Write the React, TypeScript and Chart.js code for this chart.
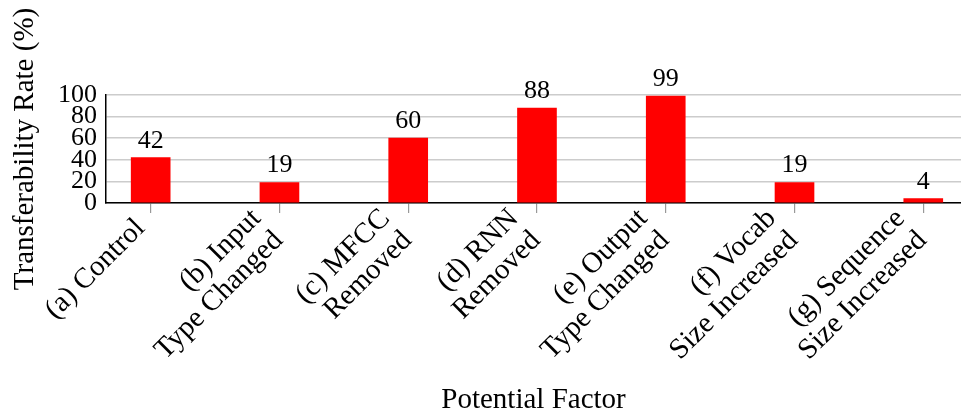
import React, { useEffect, useRef } from "react";
import { Chart, registerables } from "chart.js";

Chart.register(...registerables);

const categories: string[][] = [
  ["(a) Control"],
  ["(b) Input", "Type Changed"],
  ["(c) MFCC", "Removed"],
  ["(d) RNN", "Removed"],
  ["(e) Output", "Type Changed"],
  ["(f) Vocab", "Size Increased"],
  ["(g) Sequence", "Size Increased"],
];
const values: number[] = [42, 19, 60, 88, 99, 19, 4];
const yTicks: number[] = [0, 20, 40, 60, 80, 100];

const FONT = "'Liberation Serif', 'DejaVu Serif', serif";
const FS_TEXT = 29;
const FS_NUM = 26;

const valueLabels = {
  id: "valueLabels",
  afterDatasetsDraw(chart: any) {
    const ctx = chart.ctx;
    const meta = chart.getDatasetMeta(0);
    ctx.save();
    ctx.font = `${FS_NUM}px ${FONT}`;
    ctx.fillStyle = "#000";
    ctx.textAlign = "center";
    ctx.textBaseline = "alphabetic";
    meta.data.forEach((el: any, i: number) => {
      ctx.fillText(String(values[i]), el.x, el.y - 10);
    });
    ctx.restore();
  },
};

const rotatedLabels = {
  id: "rotatedLabels",
  afterDraw(chart: any) {
    const ctx = chart.ctx;
    const xs = chart.scales.x;
    const axisY = xs.top;
    const L = 31;
    ctx.save();
    ctx.font = `${FS_TEXT}px ${FONT}`;
    ctx.fillStyle = "#000";
    ctx.textAlign = "right";
    ctx.textBaseline = "middle";
    categories.forEach((lines, i) => {
      const px = xs.getPixelForValue(i);
      const extra = lines.length - 1;
      ctx.save();
      ctx.translate(px - 10 - 5 * extra, axisY + 21 - 2 * extra);
      ctx.rotate(-Math.PI / 4);
      const top = -11 * extra;
      lines.forEach((t, k) => {
        ctx.fillText(t, 0, top + k * L);
      });
      ctx.restore();
    });
    ctx.restore();
  },
};

export default function App() {
  const ref = useRef<HTMLCanvasElement | null>(null);
  useEffect(() => {
    document.body.style.margin = "0";
    const canvas = ref.current!;
    const chart = new Chart(canvas, {
      type: "bar",
      data: {
        datasets: [
          {
            data: values.map((v, i) => ({ x: i, y: v })),
            backgroundColor: "#ff0000",
            borderWidth: 0,
            barThickness: 39,
          },
        ],
      },
      options: {
        responsive: false,
        animation: false,
        devicePixelRatio: 1,
        layout: { padding: { top: 95, left: 0, right: 0, bottom: 0 } },
        plugins: { legend: { display: false }, tooltip: { enabled: false } },
        scales: {
          x: {
            type: "linear",
            offset: false,
            min: -0.347,
            max: 6.293,
            afterFit: (s: any) => {
              s.height = 212;
            },
            afterBuildTicks: (s: any) => {
              s.ticks = categories.map((_, i) => ({ value: i }));
            },
            ticks: { display: false, autoSkip: false },
            grid: {
              offset: false,
              drawOnChartArea: false,
              drawTicks: true,
              tickLength: 10,
              color: "#999",
              lineWidth: 1.2,
            },
            border: { display: true, color: "#000", width: 1.5 },
            title: {
              display: true,
              text: "Potential Factor",
              color: "#000",
              font: { family: FONT, size: FS_TEXT, lineHeight: 1.0 },
              padding: { top: 0, bottom: 0 },
            },
          },
          y: {
            min: 0,
            max: 100,
            afterFit: (s: any) => {
              s.width = 106;
            },
            afterBuildTicks: (s: any) => {
              s.ticks = yTicks.map((v) => ({ value: v }));
            },
            ticks: {
              autoSkip: false,
              padding: 9,
              color: "#000",
              font: { family: FONT, size: FS_NUM, lineHeight: 1.0 },
            },
            grid: { color: "#cccccc", lineWidth: 1.5, drawTicks: false },
            border: { display: true, color: "#000", width: 1.5 },
            title: {
              display: true,
              text: "Transferability Rate (%)",
              color: "#000",
              font: { family: FONT, size: FS_TEXT, lineHeight: 1.2 },
              padding: { top: 8, bottom: 0 },
            },
          },
        },
      },
      plugins: [valueLabels, rotatedLabels],
    });
    return () => chart.destroy();
  }, []);
  return <canvas ref={ref} width={961} height={415} style={{ display: "block" }} />;
}
